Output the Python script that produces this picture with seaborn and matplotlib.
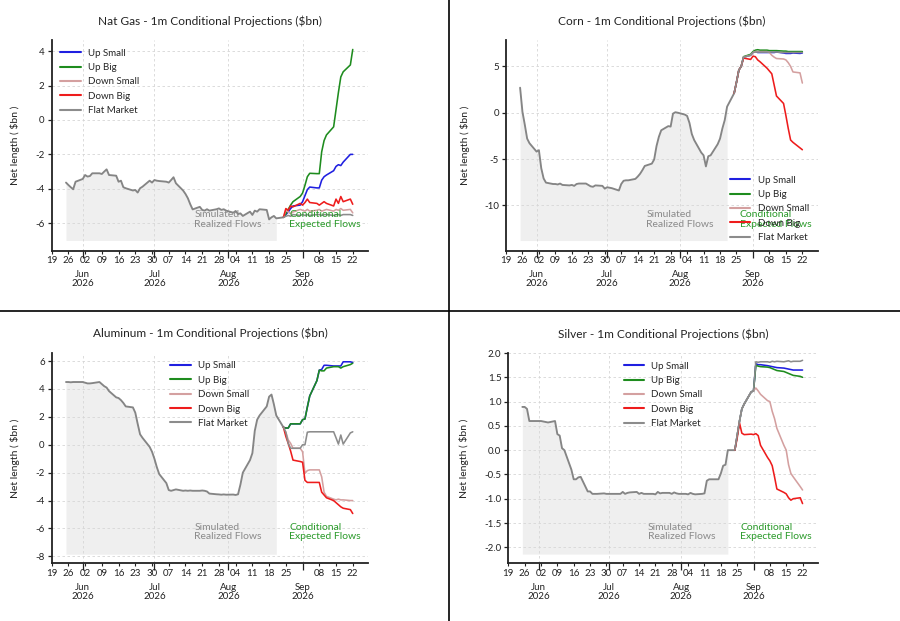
import pandas as pd
import matplotlib
matplotlib.use("Agg")
import matplotlib.pyplot as plt
import matplotlib.dates as mdates
from matplotlib.lines import Line2D
from matplotlib.ticker import MultipleLocator, FormatStrFormatter
import seaborn as sns

sns.set_theme(style="ticks")
plt.rcParams.update({
    "font.family": ["Lato", "DejaVu Sans"],
    "axes.unicode_minus": False,
    "axes.edgecolor": "#222222",
    "xtick.color": "#222222",
    "ytick.color": "#222222",
})

# --- dates ---
hist_dates = pd.bdate_range("2026-05-25", "2026-08-24")
proj_dates = pd.bdate_range("2026-08-24", "2026-09-22")
realized_end = pd.Timestamp("2026-08-21")
x_start = pd.Timestamp("2026-05-19")
x_end = pd.Timestamp("2026-09-28 12:00")

scenarios = ["Up Small", "Up Big", "Down Small", "Down Big", "Flat Market"]
scenario_colors = ["#1f1fe0", "#1e8c1e", "#d4a0a0", "#ee1c1c", "#8c8c8c"]

# --- Nat Gas ---
natgas_hist = [-3.64, -3.78, -3.91, -4.03, -3.59,
               -3.43, -3.2, -3.29, -3.26, -3.1,
               -3.1, -3.14, -3.0, -2.87, -3.2,
               -3.24, -3.59, -3.53, -3.91, -3.97,
               -4.1, -4.07, -4.22, -3.97, -3.88,
               -3.53, -3.64, -3.49, -3.53, -3.55,
               -3.59, -3.64, -3.49, -3.33, -3.68,
               -4.1, -4.3, -4.55, -4.9, -5.2,
               -5.05, -5.23, -5.27, -5.19, -5.27,
               -5.19, -5.14, -5.23, -5.19, -5.27,
               -5.39, -5.29, -5.47, -5.43, -5.58,
               -5.33, -5.52, -5.27, -5.33, -5.19,
               -5.23, -5.78, -5.66, -5.58, -5.72,
               -5.66]
natgas_up_small = [-5.66, -5.5, -5.35, -5.15, -5.0, -4.95, -4.75, -4.4, -4.05, -3.9, -3.95,
                   -3.95, -3.5, -3.3, -3.2, -2.95, -2.7, -2.6, -2.65, -2.45, -2.0, -2.0]
natgas_up_big = [-5.66, -5.45, -5.2, -4.95, -4.75, -4.45, -4.25, -3.8, -3.3, -3.1, -3.12,
                 -3.12, -1.85, -1.2, -0.87, -0.4, 0.6, 1.6, 2.5, 2.8, 3.2, 4.1]
natgas_down_small = [-5.66, -5.25, -5.35, -5.45, -5.35, -5.2, -5.25, -5.3, -5.2, -5.3, -5.25,
                     -5.2, -5.3, -5.25, -5.2, -5.3, -5.2, -5.25, -5.15, -5.25, -5.2, -5.4]
natgas_down_big = [-5.66, -5.15, -5.25, -5.0, -5.05, -4.85, -4.95, -4.8, -4.6, -4.8, -4.85,
                   -4.95, -4.85, -4.75, -4.85, -5.0, -4.6, -4.85, -4.45, -4.75, -4.6, -4.9]
natgas_flat = [-5.66, -5.6, -5.55, -5.6, -5.5, -5.55, -5.5, -5.55, -5.5, -5.55, -5.5,
               -5.5, -5.55, -5.5, -5.5, -5.55, -5.5, -5.5, -5.55, -5.5, -5.5, -5.55]

# --- Corn ---
corn_hist = [2.7, 0.1, -1.3, -2.8, -3.3,
             -4.2, -4.05, -6.0, -7.1, -7.55,
             -7.7, -7.7, -7.75, -7.65, -7.8,
             -7.85, -7.8, -7.9, -7.7, -7.65,
             -7.65, -7.8, -7.95, -8.0, -7.85,
             -7.9, -8.2, -8.05, -8.1, -8.15,
             -8.4, -7.7, -7.35, -7.3, -7.3,
             -7.15, -6.9, -6.6, -6.2, -5.75,
             -5.5, -5.05, -3.6, -2.6, -1.9,
             -1.45, -1.5, -0.1, 0.05, 0.0,
             -0.2, -0.35, -1.1, -2.3, -2.95,
             -4.3, -4.6, -5.8, -4.7, -4.6,
             -3.4, -2.8, -1.7, -0.8, 0.65,
             2.1]
corn_up_small = [2.1, 3.3, 4.6, 5.0, 6.0, 6.2, 6.5, 6.6, 6.5, 6.5, 6.5,
                 6.5, 6.5, 6.5, 6.55, 6.45, 6.4, 6.4, 6.4, 6.45, 6.4, 6.45]
corn_up_big = [2.1, 3.3, 4.6, 5.0, 6.05, 6.3, 6.6, 6.75, 6.8, 6.75, 6.75,
               6.7, 6.7, 6.7, 6.7, 6.65, 6.65, 6.6, 6.6, 6.6, 6.6, 6.6]
corn_down_small = [2.1, 3.3, 4.6, 5.0, 6.0, 6.2, 6.5, 6.6, 6.6, 6.6, 6.6,
                   6.5, 6.2, 6.0, 5.85, 5.8, 5.7, 5.4, 5.0, 4.4, 4.3, 3.2]
corn_down_big = [2.1, 3.3, 4.6, 5.0, 5.9, 5.75, 6.1, 6.05, 5.7, 5.5, 4.8,
                 4.5, 4.2, 3.0, 1.8, 1.0, -0.3, -1.7, -2.95, -3.2, -3.8, -4.0]
corn_flat = [2.1, 3.3, 4.6, 5.0, 6.0, 6.2, 6.5, 6.55, 6.55, 6.55, 6.55,
             6.55, 6.55, 6.55, 6.55, 6.5, 6.5, 6.5, 6.5, 6.5, 6.5, 6.5]

# --- Aluminum ---
alu_hist = [4.5, 4.5, 4.48, 4.5, 4.5,
            4.5, 4.45, 4.4, 4.4, 4.42,
            4.5, 4.35, 4.2, 4.1, 3.85,
            3.4, 3.35, 3.2, 3.0, 2.75,
            2.68, 2.3, 1.5, 0.75, 0.5,
            -0.15, -0.5, -1.0, -1.6, -2.1,
            -2.75, -3.25, -3.3, -3.25, -3.2,
            -3.3, -3.28, -3.3, -3.28, -3.3,
            -3.3, -3.28, -3.3, -3.35, -3.5,
            -3.55, -3.56, -3.58, -3.56, -3.58,
            -3.57, -3.6, -3.55, -2.85, -2.0,
            -1.1, -0.6, 1.0, 1.8, 2.1,
            2.75, 3.45, 3.6, 2.9, 2.1,
            1.25]
alu_up_small = [1.25, 1.2, 1.2, 1.5, 1.5, 1.5, 1.8, 1.85, 2.7, 3.5, 4.6,
                5.35, 5.4, 5.7, 5.7, 5.65, 5.65, 5.65, 5.65, 5.95, 5.95, 5.9]
alu_up_big = [1.25, 1.2, 1.2, 1.5, 1.5, 1.5, 1.8, 1.85, 2.7, 3.5, 4.6,
              5.35, 5.3, 5.3, 5.5, 5.6, 5.6, 5.6, 5.5, 5.6, 5.75, 5.85]
alu_down_small = [1.25, 0.9, 0.35, 0.1, -0.25, -0.25, -0.5, -2.05, -1.85, -1.8, -1.8,
                  -1.8, -2.3, -3.4, -3.7, -3.9, -3.95, -3.9, -3.95, -3.95, -4.0, -4.0]
alu_down_big = [1.25, 0.6, 0.1, -0.45, -1.1, -1.2, -1.25, -2.55, -2.7, -2.7, -2.7,
                -2.7, -3.4, -3.6, -3.8, -4.0, -4.15, -4.3, -4.45, -4.55, -4.65, -4.93]
alu_flat = [1.25, 0.9, 0.1, -0.25, -0.25, -0.25, 0.0, 0.0, 0.9, 0.93, 0.93,
            0.93, 0.93, 0.93, 0.93, 0.93, 0.5, 0.05, 0.7, 0.05, 0.85, 0.93]

# --- Silver ---
silver_hist = [0.89, 0.89, 0.85, 0.6, 0.6,
               0.6, 0.6, 0.59, 0.58, 0.57,
               0.6, 0.33, 0.3, 0.04, 0.0,
               -0.4, -0.6, -0.6, -0.56, -0.55,
               -0.85, -0.85, -0.9, -0.9, -0.9,
               -0.89, -0.9, -0.9, -0.9, -0.9,
               -0.9, -0.86, -0.9, -0.88, -0.87,
               -0.86, -0.9, -0.88, -0.9, -0.9,
               -0.9, -0.91, -0.86, -0.89, -0.88,
               -0.88, -0.9, -0.87, -0.89, -0.9,
               -0.9, -0.91, -0.88, -0.9, -0.91,
               -0.9, -0.89, -0.63, -0.6, -0.6,
               -0.6, -0.48, -0.32, -0.3, 0.0,
               0.0]
silver_up_small = [0.0, 0.3, 0.6, 0.85, 0.95, 1.2, 1.22, 1.78, 1.76, 1.76, 1.74,
                   1.73, 1.72, 1.71, 1.7, 1.69, 1.68, 1.67, 1.66, 1.65, 1.65, 1.65]
silver_up_big = [0.0, 0.3, 0.6, 0.85, 0.95, 1.2, 1.22, 1.75, 1.73, 1.72, 1.71,
                 1.7, 1.68, 1.66, 1.64, 1.62, 1.6, 1.58, 1.56, 1.54, 1.52, 1.5]
silver_down_small = [0.0, 0.3, 0.6, 0.85, 0.95, 1.2, 1.22, 1.28, 1.22, 1.15, 1.02,
                     1.0, 0.8, 0.65, 0.45, 0.1, 0.0, -0.3, -0.48, -0.55, -0.75, -0.82]
silver_down_big = [0.0, 0.25, 0.56, 0.35, 0.32, 0.33, 0.32, 0.34, 0.3, 0.1, -0.15,
                   -0.22, -0.32, -0.55, -0.8, -0.87, -0.9, -0.98, -1.03, -1.0, -0.98, -1.1]
silver_flat = [0.0, 0.3, 0.6, 0.85, 0.95, 1.2, 1.22, 1.82, 1.81, 1.82, 1.82,
               1.81, 1.83, 1.82, 1.83, 1.82, 1.83, 1.84, 1.82, 1.83, 1.83, 1.85]


def draw_panel(ax, name, hist, proj, ylim, fill_bottom, ystep, yfmt, legend_loc, ylab_x):
    realized = pd.DataFrame({"date": hist_dates, "value": hist})
    shade = realized[realized["date"] <= realized_end]
    ax.fill_between(shade["date"], shade["value"], fill_bottom, color="#efefef", lw=0, zorder=0)
    sns.lineplot(data=realized, x="date", y="value", color="#858585", linewidth=1.35, ax=ax, zorder=2)

    frames = []
    for sc, vals in zip(scenarios, proj):
        frames.append(pd.DataFrame({"date": proj_dates, "value": vals, "scenario": sc}))
    df_proj = pd.concat(frames, ignore_index=True)
    sns.lineplot(data=df_proj, x="date", y="value", hue="scenario", hue_order=scenarios,
                 palette=dict(zip(scenarios, scenario_colors)), linewidth=1.15,
                 errorbar=None, legend=False, ax=ax, zorder=3)

    ax.set_xlim(x_start, x_end)
    ax.set_ylim(*ylim)
    ax.xaxis.set_major_locator(mdates.MonthLocator())
    ax.xaxis.set_major_formatter(mdates.DateFormatter("%b\n%Y"))
    ax.xaxis.set_minor_locator(mdates.WeekdayLocator(byweekday=mdates.TU))
    ax.xaxis.set_minor_formatter(mdates.DateFormatter("%d"))
    ax.yaxis.set_major_locator(MultipleLocator(ystep))
    ax.yaxis.set_major_formatter(FormatStrFormatter(yfmt))
    ax.tick_params(axis="x", which="major", length=5, width=0.9, pad=9, labelsize=7)
    ax.tick_params(axis="x", which="minor", length=2.5, width=0.8, pad=1.5, labelsize=7)
    for lbl in ax.xaxis.get_majorticklabels():
        lbl.set_linespacing(1.0)
    ax.tick_params(axis="y", length=3, width=0.9, pad=2, labelsize=7)
    ax.grid(True, which="major", linestyle=(0, (3, 3)), color="#d6d6d6", linewidth=0.6)
    ax.set_axisbelow(True)
    sns.despine(ax=ax)
    for sp in ["left", "bottom"]:
        ax.spines[sp].set_linewidth(1.3)

    ax.set_title(f"{name} - 1m Conditional Projections ($bn)", fontsize=8.6, pad=11, color="#222222")
    ax.set_xlabel("")
    ax.set_ylabel("Net length ( $bn )", fontsize=7.5, color="#222222")
    ax.yaxis.set_label_coords(ylab_x, 0.5)

    ax.text(0.45, 0.105, "Simulated\nRealized Flows", transform=ax.transAxes, fontsize=7.5,
            color="#8a8a8a", ha="left", va="bottom", linespacing=1.05, zorder=4)
    ax.text(0.75, 0.105, "Conditional\nExpected Flows", transform=ax.transAxes, fontsize=7.5,
            color="#2a9a2a", ha="left", va="bottom", linespacing=1.05, zorder=4)

    handles = [Line2D([], [], color=c, lw=1.5) for c in scenario_colors]
    ax.legend(handles, scenarios, loc=legend_loc, frameon=False, fontsize=7,
              handlelength=2.1, handletextpad=0.75, labelspacing=0.55)


fig = plt.figure(figsize=(9, 6.21), dpi=100)
fig.patch.set_facecolor("white")

ax1 = fig.add_axes([0.0574, 0.5963, 0.3518, 0.3393])
ax2 = fig.add_axes([0.5622, 0.5963, 0.3463, 0.3393])
ax3 = fig.add_axes([0.0574, 0.0929, 0.3518, 0.3391])
ax4 = fig.add_axes([0.5648, 0.0929, 0.3438, 0.3386])

draw_panel(ax1, "Nat Gas", natgas_hist,
           [natgas_up_small, natgas_up_big, natgas_down_small, natgas_down_big, natgas_flat],
           (-7.6, 4.65), -7.0, 2, "%d", "upper left", -0.10)
draw_panel(ax2, "Corn", corn_hist,
           [corn_up_small, corn_up_big, corn_down_small, corn_down_big, corn_flat],
           (-14.9, 7.85), -13.8, 5, "%d", "lower right", -0.115)
draw_panel(ax3, "Aluminum", alu_hist,
           [alu_up_small, alu_up_big, alu_down_small, alu_down_big, alu_flat],
           (-8.5, 6.6), -7.85, 2, "%d", "upper center", -0.10)
draw_panel(ax4, "Silver", silver_hist,
           [silver_up_small, silver_up_big, silver_down_small, silver_down_big, silver_flat],
           (-2.33, 2.0), -2.14, 0.5, "%.1f", "upper center", -0.126)

# panel separators
fig.add_artist(Line2D([0.499, 0.499], [0, 1], transform=fig.transFigure, color="black", lw=1.2))
fig.add_artist(Line2D([0, 1], [0.5, 0.5], transform=fig.transFigure, color="black", lw=1.2))

fig.savefig("out.png", dpi=100, facecolor="white")
